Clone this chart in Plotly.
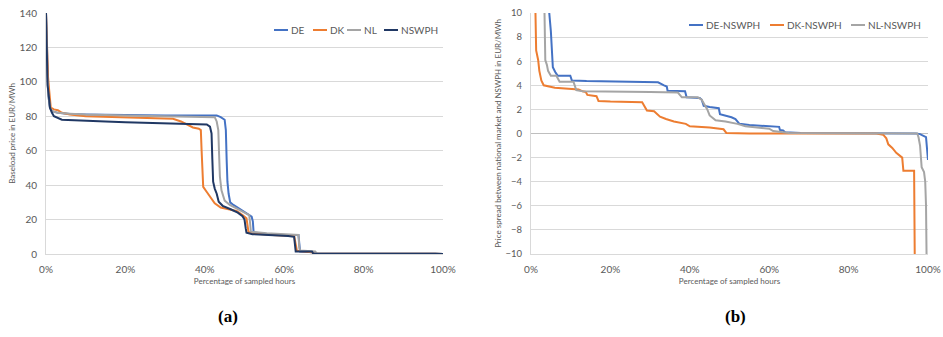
import plotly.graph_objects as go

# ---- (a) price duration curves: share of sampled hours (%) vs baseload price (EUR/MWh)
de_x = [0, 0.3, 0.6, 1.0, 1.5, 3, 6, 10, 20, 30, 43.0, 44.0, 45.0, 45.3, 45.5, 45.7, 46.0, 46.4,
        47.2, 48.8, 50.5, 51.8, 52.1, 52.3, 55, 60, 63.6, 63.8, 64.0, 67.3, 67.6, 98, 100]
de_y = [140, 105, 92, 85, 83, 82, 81.3, 81, 80.7, 80.5, 80.5, 79.5, 78, 72, 55, 42, 35, 30,
        28.5, 26, 23.6, 21.7, 19, 12.5, 11.8, 11, 11, 3, 1.4, 1, 0.3, 0.2, 0]

dk_x = [0, 0.2, 0.5, 0.8, 1.2, 2, 3, 4, 6, 10, 17, 22, 30, 32, 34, 35.5, 37, 38.5, 39.0, 39.2,
        39.4, 39.6, 40.5, 41.5, 42.5, 44, 46.5, 48, 49.5, 50.5, 50.8, 51.0, 52, 57, 62.5, 62.9,
        63.2, 67, 67.5, 98, 100]
dk_y = [140, 120, 103, 95, 85, 84, 83.5, 82, 81, 80, 79.5, 79, 78.8, 78.5, 77, 75, 73.5, 72.8,
        72, 60, 41, 39, 36, 33, 29.5, 27, 26, 25, 22.6, 20.7, 16, 12.8, 12, 11, 10.5, 5, 1.9,
        1, 0.3, 0.2, 0]

nl_x = [0, 0.3, 0.6, 1.0, 1.5, 3, 6, 10, 20, 30, 42.5, 43.0, 43.4, 43.6, 43.8, 44.2, 45.0, 46.3,
        48.8, 51.2, 51.4, 51.6, 55.6, 60, 63.6, 63.8, 64.0, 67.8, 68.2, 98, 100]
nl_y = [140, 104, 92, 85, 83, 82, 81.5, 81, 80.5, 80, 79.5, 77, 72, 58, 45, 37, 31, 28.5,
        25.5, 22.6, 18, 13, 12, 11.3, 11, 4, 2, 1.5, 0.3, 0.2, 0]

nswph_x = [0, 0.2, 0.4, 0.7, 1.0, 1.5, 2, 4, 8, 15, 20, 24, 35, 40.5, 41.3, 41.7, 41.9, 42.1,
           42.5, 43.0, 43.5, 44.5, 46.5, 48.3, 49.5, 50.0, 50.3, 50.5, 52, 57, 61, 62.5, 62.7,
           62.9, 67, 67.3, 98, 100]
nswph_y = [140, 110, 98, 92, 85, 82, 80, 78, 77.5, 77, 76.5, 76.2, 75.8, 75.3, 74, 70, 55, 42,
           38, 35, 30.4, 28, 26, 24, 22, 20, 15, 12.4, 11.5, 11, 10.5, 10, 6, 1.4, 1.4, 0.3,
           0.2, 0]

# ---- (b) spread duration curves: national price minus NSWPH price (EUR/MWh)
de_s_x = [4.4, 4.6, 5.0, 5.3, 5.5, 6.1, 6.7, 9.9, 10.3, 14, 20, 32, 33.5, 34.2, 34.4, 38.8,
          39.2, 42.5, 43.0, 43.5, 45, 47.3, 47.6, 49, 50.5, 51.5, 52.5, 55, 60, 62.5, 62.7, 63.5,
          64, 68, 97, 98, 99.5, 99.7, 100]
de_s_y = [14, 10, 8.5, 6.6, 5.5, 5.1, 4.8, 4.8, 4.4, 4.35, 4.3, 4.25, 4.0, 3.9, 3.55, 3.5, 3.0,
          2.95, 2.8, 2.3, 2.2, 2.1, 1.6, 1.5, 1.35, 1.2, 0.8, 0.7, 0.6, 0.55, 0.3, 0.25, 0.1,
          0.05, 0, -0.05, -0.3, -1.5, -2.2]

dk_s_x = [0.9, 1.1, 1.3, 1.8, 2.1, 2.6, 3.2, 6, 10, 12, 13, 13.8, 14.2, 16.5, 17.0, 20, 28,
          28.5, 29.2, 31, 32.5, 34, 36, 39, 40, 45, 48.5, 49.2, 55, 87, 88.7, 89.5, 90, 91, 92,
          93.5, 93.8, 96.5, 96.7]
dk_s_y = [14, 10, 6.9, 6.1, 5.2, 4.4, 4.0, 3.8, 3.7, 3.65, 3.5, 3.45, 3.2, 3.1, 2.7, 2.65, 2.6,
          2.3, 1.9, 1.85, 1.4, 1.2, 1.0, 0.8, 0.6, 0.5, 0.35, 0.05, 0, 0, -0.1, -0.4, -0.9,
          -1.2, -1.6, -2.0, -3.1, -3.1, -12]

nl_s_x = [3.2, 3.35, 3.6, 4.0, 4.3, 5.0, 6.4, 7.2, 10.7, 11.4, 13, 30, 37, 38, 42, 43, 44.4,
          45, 46.5, 49, 52, 54, 58, 60, 61, 63, 65, 97.3, 97.6, 98.0, 98.4, 99, 99.3, 99.5,
          99.7]
nl_s_y = [14, 10, 6.1, 5.7, 5.2, 4.8, 4.8, 4.3, 4.3, 3.6, 3.5, 3.45, 3.4, 3.0, 3.0, 2.8, 2.0,
          1.5, 1.1, 1.0, 0.8, 0.6, 0.5, 0.4, 0.2, 0.1, 0.05, 0, -0.3, -1.0, -2.8, -3.2, -4.0,
          -6.0, -12]

BLUE, ORANGE, GREY, NAVY = "#4472C4", "#ED7D31", "#A5A5A5", "#203864"
TXT = "#595959"
GRID = "#D9D9D9"
FONT = "Lato, 'Open Sans', sans-serif"

W, H = 943, 337


def pct(values):
    return [v / 100 for v in values]


def px_x(p):
    return p / W


def px_y(p):
    return 1 - p / H


panel_a = [("DE", de_x, de_y, BLUE), ("DK", dk_x, dk_y, ORANGE),
           ("NL", nl_x, nl_y, GREY), ("NSWPH", nswph_x, nswph_y, NAVY)]
panel_b = [("DE-NSWPH", de_s_x, de_s_y, BLUE), ("DK-NSWPH", dk_s_x, dk_s_y, ORANGE),
           ("NL-NSWPH", nl_s_x, nl_s_y, GREY)]

fig = go.Figure()
for name, xs, ys, col in panel_a:
    fig.add_trace(go.Scatter(x=pct(xs), y=ys, name=name, mode="lines",
                             line=dict(color=col, width=2), xaxis="x", yaxis="y"))
for name, xs, ys, col in panel_b:
    fig.add_trace(go.Scatter(x=pct(xs), y=ys, name=name, mode="lines",
                             line=dict(color=col, width=2), xaxis="x2", yaxis="y2"))

y_dom = [px_y(254), px_y(13)]

xcommon = dict(range=[0, 1], dtick=0.2, tickformat=".0%", showgrid=False,
               showline=True, linecolor=GRID, linewidth=1, ticks="", automargin=False,
               ticklabelstandoff=6,
               tickfont=dict(family=FONT, size=10, color=TXT),
               title=dict(text="Percentage of sampled hours",
                          font=dict(family=FONT, size=8, color=TXT), standoff=4),
               zeroline=False, fixedrange=True)
ycommon = dict(showgrid=True, gridcolor=GRID, gridwidth=1, showline=True, linecolor=GRID,
               ticks="", automargin=False, ticklabelstandoff=6)

fig.update_layout(
    width=W, height=H,
    margin=dict(l=0, r=0, t=0, b=0),
    paper_bgcolor="white", plot_bgcolor="white",
    font=dict(family=FONT, color=TXT),
    showlegend=False,
    xaxis=dict(domain=[px_x(46), px_x(443)], anchor="y", **xcommon),
    yaxis=dict(domain=y_dom, anchor="x", range=[0, 140], dtick=20, zeroline=False,
               tickfont=dict(family=FONT, size=10, color=TXT),
               title=dict(text="Baseload price in EUR/MWh",
                          font=dict(family=FONT, size=8, color=TXT), standoff=2),
               **ycommon),
    xaxis2=dict(domain=[px_x(531), px_x(928)], anchor="y2", **xcommon),
    yaxis2=dict(domain=y_dom, anchor="x2", range=[-10, 10], dtick=2,
                zeroline=True, zerolinecolor="#BFBFBF", zerolinewidth=1,
                tickfont=dict(family=FONT, size=9.5, color=TXT),
                title=dict(text="Price spread between national market and NSWPH in EUR/MWh",
                           font=dict(family=FONT, size=8, color=TXT), standoff=2),
                **ycommon),
)

# Compact legends: short coloured line segments followed by the series name
legend_rows = [
    (panel_a, 30, [274, 313, 347, 384]),
    (panel_b, 25, [689, 770, 851]),
]
for series, yc, starts in legend_rows:
    for (name, _, _, col), x0 in zip(series, starts):
        fig.add_shape(type="line", xref="paper", yref="paper",
                      x0=px_x(x0), x1=px_x(x0 + 14), y0=px_y(yc), y1=px_y(yc),
                      line=dict(color=col, width=2))
        fig.add_annotation(text=name, x=px_x(x0 + 14.5), y=px_y(yc), xref="paper",
                           yref="paper", showarrow=False, xanchor="left", yanchor="middle",
                           font=dict(family=FONT, size=10, color=TXT))

for label, xc in [("(a)", 228), ("(b)", 735)]:
    fig.add_annotation(text=f"<b>{label}</b>", x=px_x(xc), y=px_y(316), xref="paper",
                       yref="paper", showarrow=False, xanchor="center", yanchor="middle",
                       font=dict(family="'Liberation Serif', 'Times New Roman', serif",
                                 size=17, color="black"))

fig.write_html("out.html")
